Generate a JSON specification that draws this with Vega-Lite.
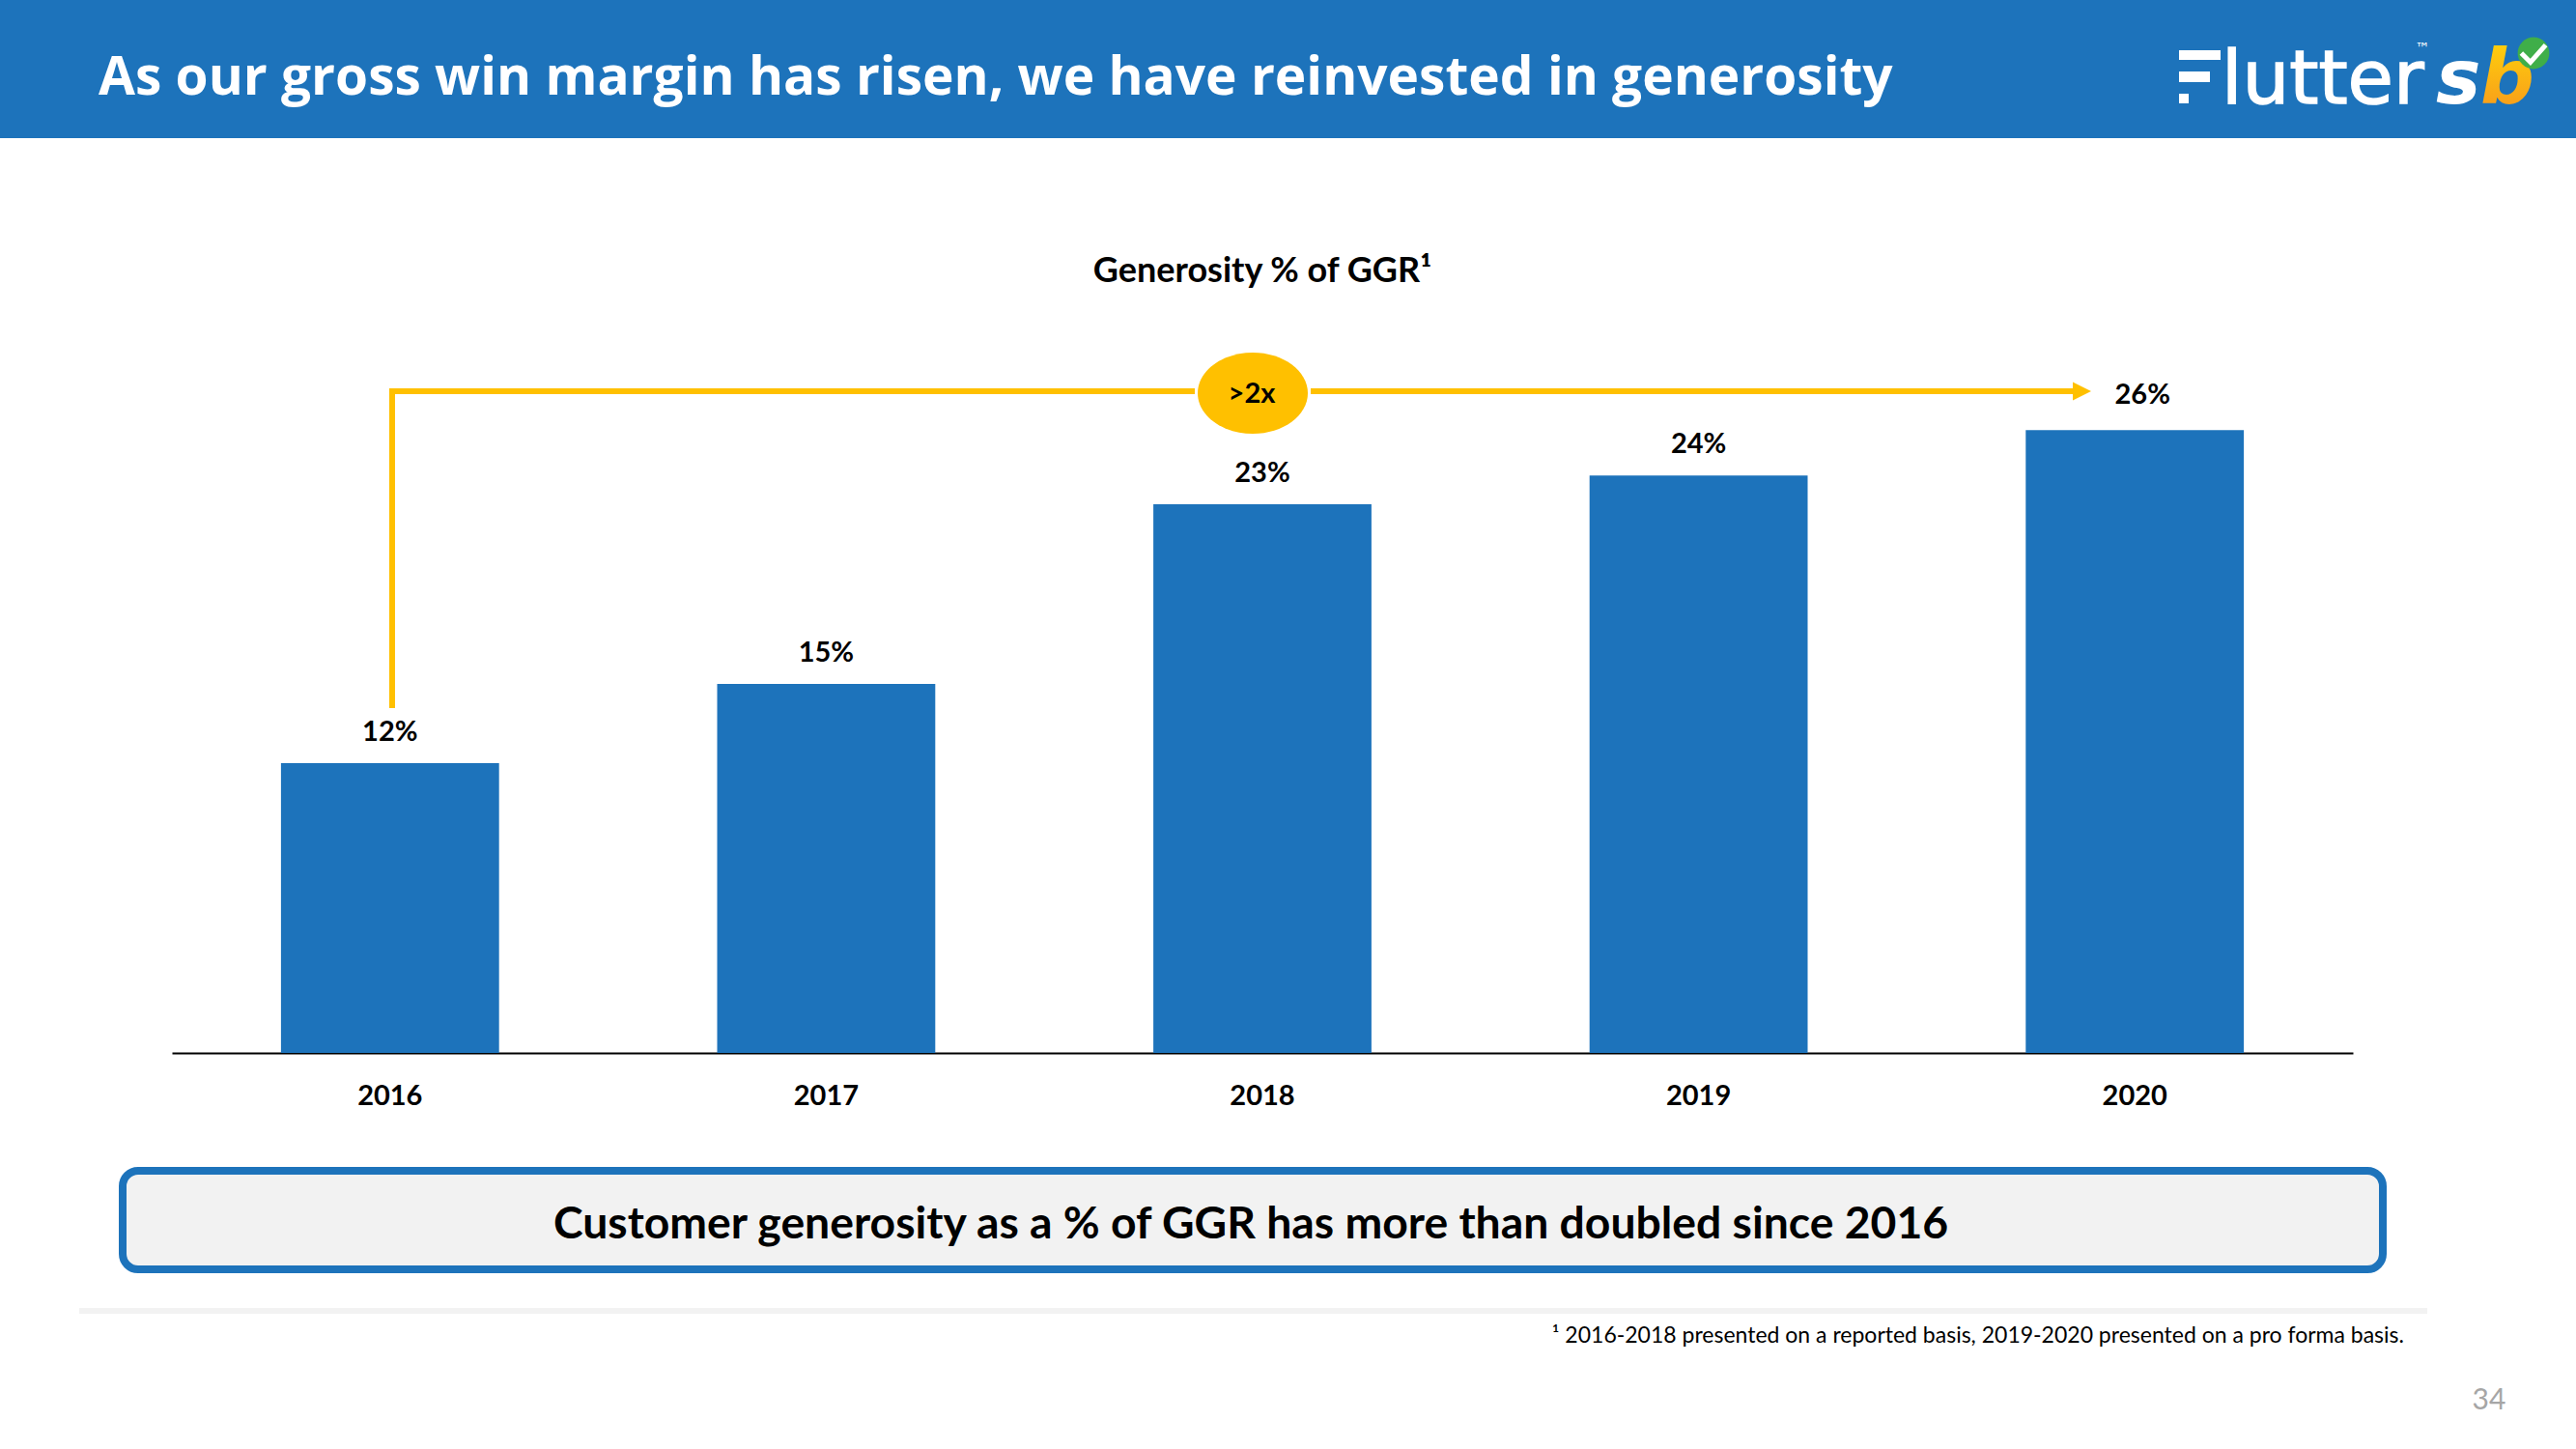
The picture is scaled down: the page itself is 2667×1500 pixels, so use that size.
{
"$schema":"https://vega.github.io/schema/vega-lite/v6.json",
"width":2667,"height":1500,"padding":0,"autosize":{"type":"none"},"background":"white",
"config":{"view":{"stroke":null},"text":{"font":"Lato","color":"black"}},
"layer":[
{"data":{"values":[
{"year":"2016","value":12.1,"label":"12%"},
{"year":"2017","value":15.4,"label":"15%"},
{"year":"2018","value":22.9,"label":"23%"},
{"year":"2019","value":24.1,"label":"24%"},
{"year":"2020","value":26.0,"label":"26%"}]},
"encoding":{
"x":{"field":"year","type":"nominal","sort":null,"scale":{"range":[178,2436],"paddingInner":0.5,"paddingOuter":0.25},
"axis":{"title":null,"orient":"bottom","offset":-410,"labelAngle":0,"ticks":false,"grid":false,"domainColor":"black","domainWidth":2,"labelFont":"Lato","labelFontSize":29,"labelFontWeight":"bold","labelColor":"black","labelBaseline":"middle","labelPadding":44}},
"y":{"field":"value","type":"quantitative","axis":null,"scale":{"domain":[0,43.95],"range":[1090,0],"nice":false,"zero":false}}},
"layer":[
{"mark":{"type":"bar","color":"#1D73BB"}},
{"transform":[{"filter":"datum.year!='2020'"}],"mark":{"type":"text","dy":-32,"fontSize":29,"fontWeight":"bold","baseline":"middle"},"encoding":{"text":{"field":"label"}}},
{"transform":[{"filter":"datum.year=='2020'"}],"mark":{"type":"text","dy":-36,"dx":8,"fontSize":29,"fontWeight":"bold","baseline":"middle"},"encoding":{"text":{"field":"label"}}}
]},
{"data":{"values":[{"slide":"annotation"}]},"layer":[
{"mark":{"type":"rect","color":"#1D73BB"},"encoding":{"x":{"datum":0,"type":"quantitative","axis":null,"scale":{"domain":[0,2667],"range":[0,2667],"nice":false,"zero":false}},"x2":{"datum":2667},"y":{"datum":0,"type":"quantitative","axis":null,"scale":{"domain":[0,1500],"range":[0,1500],"nice":false,"zero":false}},"y2":{"datum":143}}},
{"mark":{"type":"text","text":"As our gross win margin has risen, we have reinvested in generosity","font":"Open Sans","fontWeight":700,"fontSize":55,"color":"white","align":"left","baseline":"middle"},"encoding":{"x":{"datum":102,"type":"quantitative","axis":null},"y":{"datum":81,"type":"quantitative","axis":null}}},
{"mark":{"type":"rect","color":"white"},"encoding":{"x":{"datum":2256,"type":"quantitative","axis":null},"x2":{"datum":2299},"y":{"datum":52,"type":"quantitative","axis":null},"y2":{"datum":62}}},
{"mark":{"type":"rect","color":"white"},"encoding":{"x":{"datum":2256,"type":"quantitative","axis":null},"x2":{"datum":2288},"y":{"datum":74,"type":"quantitative","axis":null},"y2":{"datum":85}}},
{"mark":{"type":"rect","color":"white"},"encoding":{"x":{"datum":2256,"type":"quantitative","axis":null},"x2":{"datum":2266},"y":{"datum":97,"type":"quantitative","axis":null},"y2":{"datum":107}}},
{"mark":{"type":"text","text":"lutter","font":"DejaVu Sans","fontSize":77,"color":"white","stroke":"white","strokeWidth":1.5,"align":"left","baseline":"alphabetic"},"encoding":{"x":{"datum":2300,"type":"quantitative","axis":null},"y":{"datum":107,"type":"quantitative","axis":null}}},
{"mark":{"type":"text","text":"™","font":"DejaVu Sans","fontSize":15,"color":"white","align":"center","baseline":"middle"},"encoding":{"x":{"datum":2508,"type":"quantitative","axis":null},"y":{"datum":50,"type":"quantitative","axis":null}}},
{"mark":{"type":"text","text":"s","font":"DejaVu Sans","fontWeight":"bold","fontStyle":"italic","fontSize":78,"color":"white","align":"left","baseline":"alphabetic"},"encoding":{"x":{"datum":2522,"type":"quantitative","axis":null},"y":{"datum":107,"type":"quantitative","axis":null}}},
{"mark":{"type":"text","text":"b","font":"DejaVu Sans","fontWeight":"bold","fontStyle":"italic","fontSize":78,"align":"left","baseline":"alphabetic","fill":{"gradient":"linear","x1":0,"y1":0,"x2":0,"y2":1,"stops":[{"offset":0,"color":"#FFD60A"},{"offset":1,"color":"#F7941D"}]}},"encoding":{"x":{"datum":2568,"type":"quantitative","axis":null},"y":{"datum":107,"type":"quantitative","axis":null}}},
{"mark":{"type":"point","shape":"circle","filled":true,"size":1075,"color":"#3FAE49","opacity":1},"encoding":{"x":{"datum":2623,"type":"quantitative","axis":null},"y":{"datum":55,"type":"quantitative","axis":null}}},
{"mark":{"type":"point","shape":"M-0.6,0 L-0.15,0.45 L0.6,-0.4","filled":false,"size":1764,"stroke":"white","strokeWidth":5,"opacity":1},"encoding":{"x":{"datum":2623,"type":"quantitative","axis":null},"y":{"datum":55,"type":"quantitative","axis":null}}},
{"mark":{"type":"text","text":"Generosity % of GGR¹","fontWeight":"bold","fontSize":36,"align":"center","baseline":"middle"},"encoding":{"x":{"datum":1307,"type":"quantitative","axis":null},"y":{"datum":281,"type":"quantitative","axis":null}}},
{"mark":{"type":"rule","color":"#FFC000","strokeWidth":6},"encoding":{"x":{"datum":406,"type":"quantitative","axis":null},"y":{"datum":402,"type":"quantitative","axis":null},"y2":{"datum":733}}},
{"mark":{"type":"rule","color":"#FFC000","strokeWidth":6},"encoding":{"x":{"datum":403,"type":"quantitative","axis":null},"x2":{"datum":1237},"y":{"datum":405,"type":"quantitative","axis":null}}},
{"mark":{"type":"rule","color":"#FFC000","strokeWidth":6},"encoding":{"x":{"datum":1357,"type":"quantitative","axis":null},"x2":{"datum":2148},"y":{"datum":405,"type":"quantitative","axis":null}}},
{"mark":{"type":"point","shape":"M-1,-1 L1,0 L-1,1 Z","filled":true,"size":361,"color":"#FFC000","opacity":1},"encoding":{"x":{"datum":2155.5,"type":"quantitative","axis":null},"y":{"datum":405,"type":"quantitative","axis":null}}},
{"mark":{"type":"point","shape":"M-1,0 A1,0.737 0 1 1 1,0 A1,0.737 0 1 1 -1,0 Z","filled":true,"size":12996,"color":"#FFC000","opacity":1},"encoding":{"x":{"datum":1297,"type":"quantitative","axis":null},"y":{"datum":407,"type":"quantitative","axis":null}}},
{"mark":{"type":"text","text":">2x","fontWeight":"bold","fontSize":29,"align":"center","baseline":"middle"},"encoding":{"x":{"datum":1296,"type":"quantitative","axis":null},"y":{"datum":408,"type":"quantitative","axis":null}}},
{"mark":{"type":"rect","fill":"#F2F2F2","stroke":"#1D73BB","strokeWidth":8,"cornerRadius":16},"encoding":{"x":{"datum":127,"type":"quantitative","axis":null},"x2":{"datum":2467},"y":{"datum":1212,"type":"quantitative","axis":null},"y2":{"datum":1314}}},
{"mark":{"type":"text","text":"Customer generosity as a % of GGR has more than doubled since 2016","fontWeight":"bold","fontSize":46.3,"align":"center","baseline":"middle"},"encoding":{"x":{"datum":1295,"type":"quantitative","axis":null},"y":{"datum":1268,"type":"quantitative","axis":null}}},
{"mark":{"type":"rect","color":"#F2F2F2"},"encoding":{"x":{"datum":82,"type":"quantitative","axis":null},"x2":{"datum":2513},"y":{"datum":1354,"type":"quantitative","axis":null},"y2":{"datum":1360}}},
{"mark":{"type":"text","text":"¹ 2016-2018 presented on a reported basis, 2019-2020 presented on a pro forma basis.","fontSize":23,"align":"right","baseline":"middle"},"encoding":{"x":{"datum":2489,"type":"quantitative","axis":null},"y":{"datum":1383,"type":"quantitative","axis":null}}},
{"mark":{"type":"text","text":"34","font":"Lato","fontSize":30,"color":"#A6A6A6","align":"center","baseline":"middle"},"encoding":{"x":{"datum":2577,"type":"quantitative","axis":null},"y":{"datum":1450,"type":"quantitative","axis":null}}}
]}
],
"resolve":{"scale":{"x":"independent","y":"independent"}}
}
